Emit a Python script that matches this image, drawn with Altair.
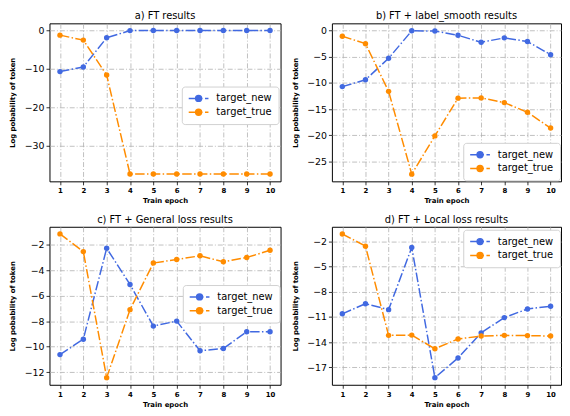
import altair as alt
import pandas as pd

epochs = [1, 2, 3, 4, 5, 6, 7, 8, 9, 10]
series_names = ["target_new", "target_true"]
colors = ["#4169E1", "#FF8C00"]

a_new = [-10.7, -9.5, -1.9, -0.02, -0.01, -0.01, -0.01, -0.01, -0.01, -0.01]
a_true = [-1.2, -2.5, -11.6, -37.4, -37.4, -37.4, -37.4, -37.4, -37.4, -37.4]
b_new = [-10.7, -9.4, -5.3, -0.05, -0.1, -0.9, -2.25, -1.4, -2.1, -4.6]
b_true = [-1.1, -2.5, -11.6, -27.4, -20.1, -12.9, -12.85, -13.75, -15.6, -18.6]
c_new = [-10.63, -9.42, -2.28, -5.12, -8.39, -8.0, -10.33, -10.15, -8.84, -8.84]
c_true = [-1.15, -2.54, -12.44, -7.1, -3.44, -3.16, -2.87, -3.34, -3.0, -2.44]
d_new = [-10.63, -9.42, -10.13, -2.7, -18.25, -15.9, -12.9, -11.08, -10.05, -9.73]
d_true = [-1.1, -2.55, -13.2, -13.17, -14.8, -13.63, -13.28, -13.2, -13.23, -13.28]

titles = ["a) FT results", "b) FT + label_smooth results",
          "c) FT + General loss results", "d) FT + Local loss results"]
y_domains = [[-39.3, 1.87], [-28.77, 1.37], [-13.0, -0.59], [-19.1, -0.24]]
y_ticks = [[0, -10, -20, -30], [0, -5, -10, -15, -20, -25],
           [-2, -4, -6, -8, -10, -12], [-2, -5, -8, -11, -14, -17]]
legend_pos = [(134, 64), (133, 121), (135, 59), (133, 3)]
widths = [234, 232, 234, 232]

H = 160
SYMBOL = ("M-1,0 L1.8,0 M2.3,0 L3,0 "
          "M0.4,0 A0.6,0.6 0 1,0 1.6,0 A0.6,0.6 0 1,0 0.4,0 Z")


def panel(new_vals, true_vals, title, ydom, yt, lpos, w):
    df = pd.DataFrame({
        "epoch": epochs * 2,
        "value": new_vals + true_vals,
        "series": [series_names[0]] * 10 + [series_names[1]] * 10,
    })
    x = alt.X("epoch:Q", scale=alt.Scale(domain=[0.55, 10.45], nice=False, zero=False),
              axis=alt.Axis(values=epochs, title="Train epoch", format="d"))
    y = alt.Y("value:Q", scale=alt.Scale(domain=ydom, nice=False, zero=False),
              axis=alt.Axis(values=yt, title="Log pobability of token"))
    color = alt.Color("series:N",
                      scale=alt.Scale(domain=series_names, range=colors),
                      legend=alt.Legend(title=None, orient="none",
                                        legendX=lpos[0], legendY=lpos[1],
                                        symbolType=SYMBOL))
    base = alt.Chart(df)
    line = base.mark_line(strokeWidth=1.5, strokeDash=[9.6, 2.4, 1.5, 2.4]).encode(
        x=x, y=y, color=color)
    pts = base.mark_point(filled=True, size=30, opacity=1).encode(
        x=x, y=y, color=color)
    return alt.layer(line, pts).properties(width=w, height=H, title=title)


p = [panel(a_new, a_true, titles[0], y_domains[0], y_ticks[0], legend_pos[0], widths[0]),
     panel(b_new, b_true, titles[1], y_domains[1], y_ticks[1], legend_pos[1], widths[1]),
     panel(c_new, c_true, titles[2], y_domains[2], y_ticks[2], legend_pos[2], widths[2]),
     panel(d_new, d_true, titles[3], y_domains[3], y_ticks[3], legend_pos[3], widths[3])]

row1 = alt.hconcat(p[0], p[1], spacing=9).resolve_legend(color="independent")
row2 = alt.hconcat(p[2], p[3], spacing=9).resolve_legend(color="independent")

chart = alt.vconcat(row1, row2, spacing=10).resolve_legend(
    color="independent"
).properties(
    padding=0
).configure(
    font="DejaVu Sans"
).configure_view(
    stroke="black", strokeWidth=1
).configure_title(
    fontSize=10, fontWeight="normal", offset=2, color="black", font="DejaVu Sans"
).configure_axis(
    domain=False, grid=True, gridColor="#b0b0b0", gridDash=[5, 2, 1, 2], gridWidth=0.8,
    tickColor="black", tickSize=3.5, tickWidth=0.8, labelColor="black", titleColor="black",
    labelFont="DejaVu Sans", titleFont="DejaVu Sans",
    titleFontSize=7, titleFontWeight="bold", labelPadding=2
).configure_axisX(
    labelFontSize=7, labelFontWeight="bold", titlePadding=3
).configure_axisY(
    labelFontSize=9.5, minExtent=30, maxExtent=30, titlePadding=4
).configure_legend(
    labelFontSize=10, labelFont="DejaVu Sans", labelColor="black",
    symbolSize=100, symbolStrokeWidth=1.5, padding=6, rowPadding=2,
    strokeColor="#d0d0d0", fillColor="white", cornerRadius=3, labelOffset=17
)

chart.save("out.html", embed_options={"renderer": "svg", "actions": False})
